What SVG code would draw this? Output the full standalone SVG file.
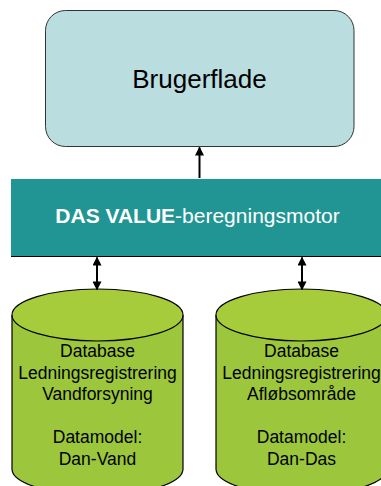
<svg xmlns="http://www.w3.org/2000/svg" width="381" height="486" viewBox="0 0 381 486">
<defs>
<style>
.lbl{font-family:"Liberation Sans",Arial,sans-serif;fill:#000;text-anchor:middle}
.db{font-size:17.5px}
.cyl{fill:#9CC63C;stroke:#000;stroke-width:1.2}
.cyltop{fill:#A6CC3C;stroke:#000;stroke-width:1.2}
.conn{stroke:#000;stroke-width:2;fill:none}
</style>
<marker id="ah" viewBox="0 0 10 10" refX="9" refY="5" markerWidth="4.5" markerHeight="4.5" orient="auto-start-reverse">
<path d="M0,0 L10,5 L0,10 z" fill="#000"/>
</marker>
</defs>
<rect width="381" height="486" fill="#fff"/>
<g id="brugerflade">
<rect x="45.5" y="10.5" width="308.5" height="136" rx="20" ry="20" fill="#BADDE0" stroke="#333" stroke-width="1"/>
<text class="lbl" x="199.5" y="88" font-size="26">Brugerflade</text>
</g>
<g id="motor">
<rect x="11" y="179" width="372" height="77" fill="#219593"/>
<line x1="11" y1="256.5" x2="381" y2="256.5" stroke="#000" stroke-width="1.2"/>
<text x="197.5" y="222.5" font-family="'Liberation Sans',Arial,sans-serif" font-size="21" fill="#fff" text-anchor="middle"><tspan font-weight="bold">DAS VALUE</tspan>-beregningsmotor</text>
</g>
<g id="db-vand">
<path class="cyl" d="M12,315 L12,469 A85.5,26 0 0 0 183,469 L183,315"/>
<ellipse class="cyltop" cx="97.5" cy="315" rx="85.5" ry="26"/>
<text class="lbl db" x="97.5" y="357">Database</text>
<text class="lbl db" x="97.5" y="379">Ledningsregistrering</text>
<text class="lbl db" x="97.5" y="400">Vandforsyning</text>
<text class="lbl db" x="97.5" y="443">Datamodel:</text>
<text class="lbl db" x="97.5" y="465">Dan-Vand</text>
</g>
<g id="db-das">
<path class="cyl" d="M216,315 L216,469 A85.5,26 0 0 0 387,469 L387,315"/>
<ellipse class="cyltop" cx="301.5" cy="315" rx="85.5" ry="26"/>
<text class="lbl db" x="301.5" y="357">Database</text>
<text class="lbl db" x="301.5" y="379">Ledningsregistrering</text>
<text class="lbl db" x="301.5" y="400">Afløbsområde</text>
<text class="lbl db" x="301.5" y="443">Datamodel:</text>
<text class="lbl db" x="301.5" y="465">Dan-Das</text>
</g>
<g id="connectors">
<line class="conn" x1="199.5" y1="178" x2="199.5" y2="147.5" marker-end="url(#ah)"/>
<line class="conn" x1="97" y1="257.5" x2="97" y2="289.5" marker-start="url(#ah)" marker-end="url(#ah)"/>
<line class="conn" x1="302" y1="257.5" x2="302" y2="289.5" marker-start="url(#ah)" marker-end="url(#ah)"/>
</g>
</svg>
